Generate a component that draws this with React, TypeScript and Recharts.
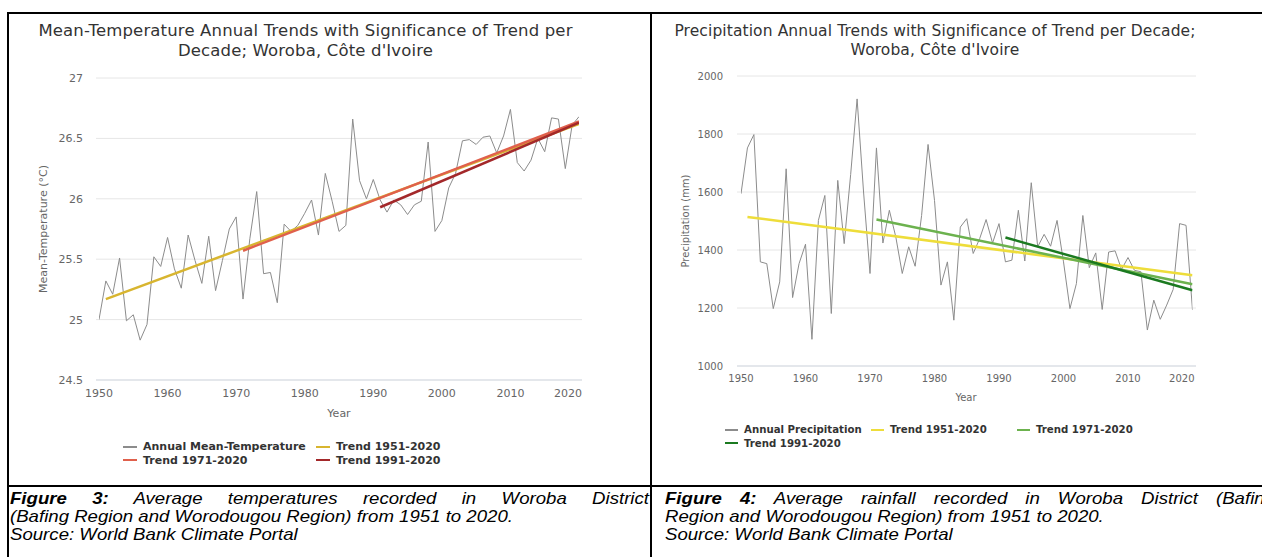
import React from 'react';
import { LineChart, Line, XAxis, YAxis, CartesianGrid, Legend } from 'recharts';

const years = [
  1950, 1951, 1952, 1953, 1954, 1955, 1956, 1957, 1958, 1959,
  1960, 1961, 1962, 1963, 1964, 1965, 1966, 1967, 1968, 1969,
  1970, 1971, 1972, 1973, 1974, 1975, 1976, 1977, 1978, 1979,
  1980, 1981, 1982, 1983, 1984, 1985, 1986, 1987, 1988, 1989,
  1990, 1991, 1992, 1993, 1994, 1995, 1996, 1997, 1998, 1999,
  2000, 2001, 2002, 2003, 2004, 2005, 2006, 2007, 2008, 2009,
  2010, 2011, 2012, 2013, 2014, 2015, 2016, 2017, 2018, 2019, 2020,
];

const meanTemperature = [
  25.0, 25.32, 25.21, 25.51, 24.99, 25.04, 24.83, 24.96, 25.52, 25.44,
  25.68, 25.42, 25.26, 25.7, 25.49, 25.3, 25.69, 25.24, 25.49, 25.75,
  25.85, 25.17, 25.67, 26.06, 25.38, 25.39, 25.14, 25.79, 25.73, 25.78,
  25.88, 25.99, 25.7, 26.21, 25.98, 25.73, 25.78, 26.66, 26.15, 26.0,
  26.16, 25.99, 25.89, 25.99, 25.95, 25.87, 25.95, 25.98, 26.47, 25.73,
  25.82, 26.09, 26.21, 26.48, 26.49, 26.45, 26.51, 26.52, 26.38, 26.52,
  26.74, 26.3, 26.23, 26.32, 26.5, 26.39, 26.67, 26.66, 26.25, 26.61, 26.68,
];

const precipitation = [
  1594, 1752, 1798, 1359, 1353, 1198, 1290, 1680, 1236, 1353,
  1420, 1092, 1502, 1588, 1181, 1640, 1422, 1660, 1921, 1600,
  1319, 1752, 1424, 1537, 1445, 1319, 1411, 1344, 1519, 1764,
  1571, 1279, 1359, 1158, 1479, 1508, 1388, 1439, 1505, 1424,
  1491, 1359, 1365, 1537, 1362, 1632, 1411, 1454, 1413, 1502,
  1359, 1198, 1284, 1519, 1339, 1390, 1195, 1393, 1397, 1333,
  1374, 1330, 1325, 1124, 1227, 1161, 1210, 1264, 1491, 1485, 1193,
];

const tempTrend1951 = [
  { year: 1951, value: 25.17 },
  { year: 2020, value: 26.62 },
];
const tempTrend1971 = [
  { year: 1971, value: 25.57 },
  { year: 2020, value: 26.64 },
];
const tempTrend1991 = [
  { year: 1991, value: 25.93 },
  { year: 2020, value: 26.63 },
];

const precipTrend1951 = [
  { year: 1951, value: 1514 },
  { year: 2020, value: 1313 },
];
const precipTrend1971 = [
  { year: 1971, value: 1505 },
  { year: 2020, value: 1282 },
];
const precipTrend1991 = [
  { year: 1991, value: 1443 },
  { year: 2020, value: 1261 },
];

const xTicks = [1950, 1960, 1970, 1980, 1990, 2000, 2010, 2020];
const tempTicks = [24.5, 25, 25.5, 26, 26.5, 27];
const precipTicks = [1000, 1200, 1400, 1600, 1800, 2000];

const tempData = years.map((y, i) => ({ year: y, value: meanTemperature[i] }));
const precipData = years.map((y, i) => ({ year: y, value: precipitation[i] }));

const FONT = '"DejaVu Sans", sans-serif';
const CAPTION_FONT = '"Liberation Sans", Arial, sans-serif';
const CAP_SCALE = 1.15;

const makeXTick = (fontSize: number, lastShift: number) => (props: any) => {
  const { x, y, payload } = props;
  const isLast = payload.value === 2020;
  return (
    <text
      x={isLast ? x + lastShift : x}
      y={y}
      dy="0.71em"
      textAnchor={isLast ? 'end' : 'middle'}
      fill="#666"
      fontSize={fontSize}
      fontFamily={FONT}
    >
      {payload.value}
    </text>
  );
};

const makeLegend = (cols: number, colWidth: number, fontSize: number, rowH: number, symW: number, gap: number) =>
  (props: any) => {
    const items = props.payload || [];
    return (
      <div
        style={{
          display: 'grid',
          gridTemplateColumns: `repeat(${cols}, ${colWidth}px)`,
          fontFamily: FONT,
        }}
      >
        {items.map((it: any, i: number) => (
          <div key={i} style={{ display: 'flex', alignItems: 'center', height: rowH }}>
            <span style={{ display: 'inline-block', width: symW, height: 2, background: it.color, marginRight: gap }} />
            <span style={{ fontWeight: 'bold', fontSize, color: '#333', whiteSpace: 'nowrap', lineHeight: `${rowH}px` }}>
              {it.value}
            </span>
          </div>
        ))}
      </div>
    );
  };

const abs = (s: React.CSSProperties): React.CSSProperties => ({ position: 'absolute', ...s });

const captionBox = (left: number, visualWidth: number): React.CSSProperties =>
  abs({
    left,
    top: 488.6,
    width: visualWidth / CAP_SCALE,
    fontFamily: CAPTION_FONT,
    fontStyle: 'italic',
    fontSize: 16.2,
    lineHeight: '18px',
    color: '#000',
    transform: `scaleX(${CAP_SCALE})`,
    transformOrigin: '0 0',
  });

export default function App() {
  return (
    <div style={{ position: 'relative', width: 1262, height: 557, overflow: 'hidden', background: '#fff' }}>
      <style>{`body{margin:0;}`}</style>

      {/* Left chart */}
      <div style={abs({ left: 0, top: 0 })}>
        <LineChart
          width={650}
          height={485}
          data={tempData}
          margin={{ top: 78, right: 68, bottom: 75, left: 0 }}
        >
          <CartesianGrid vertical={false} stroke="#e6e6e6" />
          <XAxis
            dataKey="year"
            type="number"
            domain={[1950, 2020]}
            ticks={xTicks}
            padding={{ left: 3, right: 3 }}
            height={30}
            tickSize={0}
            tickMargin={9}
            axisLine={{ stroke: '#d5dbe4' }}
            tick={makeXTick(11, 3)}
            allowDataOverflow
          />
          <YAxis
            type="number"
            domain={[24.5, 27]}
            ticks={tempTicks}
            width={96}
            tickSize={0}
            tickMargin={13}
            axisLine={false}
            tick={{ fill: '#666', fontSize: 11, fontFamily: FONT }}
            allowDataOverflow
          />
          <Line data={tempData} dataKey="value" name="Annual Mean-Temperature" stroke="#8c8c8c" strokeWidth={1} dot={false} isAnimationActive={false} />
          <Line data={tempTrend1951} dataKey="value" name="Trend 1951-2020" stroke="#d8b52f" strokeWidth={2.5} dot={false} isAnimationActive={false} />
          <Line data={tempTrend1971} dataKey="value" name="Trend 1971-2020" stroke="#e0604c" strokeWidth={2.5} dot={false} isAnimationActive={false} />
          <Line data={tempTrend1991} dataKey="value" name="Trend 1991-2020" stroke="#a3282a" strokeWidth={2.5} dot={false} isAnimationActive={false} />
          <Legend
            layout="horizontal"
            verticalAlign="middle"
            align="center"
            wrapperStyle={{ left: 123, top: 440, width: 420, height: 28 }}
            content={makeLegend(2, 193, 11, 13.5, 14, 6)}
          />
        </LineChart>
      </div>

      {/* Right chart */}
      <div style={abs({ left: 652, top: 0 })}>
        <LineChart
          width={610}
          height={485}
          data={precipData}
          margin={{ top: 76, right: 66, bottom: 89, left: 0 }}
        >
          <CartesianGrid vertical={false} stroke="#e6e6e6" />
          <XAxis
            dataKey="year"
            type="number"
            domain={[1950, 2020]}
            ticks={xTicks}
            padding={{ left: 4, right: 3.5 }}
            height={30}
            tickSize={0}
            tickMargin={9}
            axisLine={{ stroke: '#d5dbe4' }}
            tick={makeXTick(10, 2)}
            allowDataOverflow
          />
          <YAxis
            type="number"
            domain={[1000, 2000]}
            ticks={precipTicks}
            width={85}
            tickSize={0}
            tickMargin={14}
            axisLine={false}
            tick={{ fill: '#666', fontSize: 10, fontFamily: FONT }}
            allowDataOverflow
          />
          <Line data={precipData} dataKey="value" name="Annual Precipitation" stroke="#8c8c8c" strokeWidth={1} dot={false} isAnimationActive={false} />
          <Line data={precipTrend1951} dataKey="value" name="Trend 1951-2020" stroke="#eedd3a" strokeWidth={2.5} dot={false} isAnimationActive={false} />
          <Line data={precipTrend1971} dataKey="value" name="Trend 1971-2020" stroke="#6cb24e" strokeWidth={2.5} dot={false} isAnimationActive={false} />
          <Line data={precipTrend1991} dataKey="value" name="Trend 1991-2020" stroke="#1b7a20" strokeWidth={2.5} dot={false} isAnimationActive={false} />
          <Legend
            layout="horizontal"
            verticalAlign="middle"
            align="center"
            wrapperStyle={{ left: 73, top: 423.4, width: 460, height: 28 }}
            content={makeLegend(3, 146, 10.2, 13.3, 13, 6)}
          />
        </LineChart>
      </div>

      {/* Titles */}
      <div
        style={abs({
          left: 9, top: 21.3, width: 593, textAlign: 'center', fontFamily: FONT, fontSize: 16.5,
          letterSpacing: '0.15px', lineHeight: '19.3px', color: '#333', whiteSpace: 'nowrap',
        })}
      >
        Mean-Temperature Annual Trends with Significance of Trend per
        <br />
        Decade; Woroba, Côte d'Ivoire
      </div>
      <div
        style={abs({
          left: 652, top: 21.5, width: 566, textAlign: 'center', fontFamily: FONT, fontSize: 15.5,
          letterSpacing: '0.1px', lineHeight: '19.3px', color: '#333', whiteSpace: 'nowrap',
        })}
      >
        Precipitation Annual Trends with Significance of Trend per Decade;
        <br />
        Woroba, Côte d'Ivoire
      </div>

      {/* Axis titles */}
      <div style={abs({ left: 43, top: 229, transform: 'translate(-50%, -50%) rotate(-90deg)', fontFamily: FONT, fontSize: 11, color: '#666', whiteSpace: 'nowrap' })}>
        Mean-Temperature (°C)
      </div>
      <div style={abs({ left: 339, top: 413, transform: 'translate(-50%, -50%)', fontFamily: FONT, fontSize: 11, color: '#666', whiteSpace: 'nowrap' })}>
        Year
      </div>
      <div style={abs({ left: 685, top: 221, transform: 'translate(-50%, -50%) rotate(-90deg)', fontFamily: FONT, fontSize: 10, color: '#666', whiteSpace: 'nowrap' })}>
        Precipitation (mm)
      </div>
      <div style={abs({ left: 966, top: 397, transform: 'translate(-50%, -50%)', fontFamily: FONT, fontSize: 10, color: '#666', whiteSpace: 'nowrap' })}>
        Year
      </div>

      {/* Table borders */}
      <div style={abs({ left: 7, top: 12, width: 1255, height: 2, background: '#000' })} />
      <div style={abs({ left: 7, top: 12, width: 2, height: 545, background: '#000' })} />
      <div style={abs({ left: 650, top: 12, width: 2, height: 545, background: '#000' })} />
      <div style={abs({ left: 7, top: 485, width: 1255, height: 2, background: '#000' })} />

      {/* Captions */}
      <div style={captionBox(10, 639)}>
        <div style={{ textAlign: 'justify', textAlignLast: 'justify', whiteSpace: 'nowrap' as any }}>
          <b>Figure 3:</b> Average temperatures recorded in Woroba District
        </div>
        <div style={{ whiteSpace: 'nowrap' }}>(Bafing Region and Worodougou Region) from 1951 to 2020.</div>
        <div style={{ whiteSpace: 'nowrap' }}>Source: World Bank Climate Portal</div>
      </div>
      <div style={captionBox(665, 610)}>
        <div style={{ textAlign: 'justify', textAlignLast: 'justify', whiteSpace: 'nowrap' as any }}>
          <b>Figure 4:</b> Average rainfall recorded in Woroba District (Bafing
        </div>
        <div style={{ whiteSpace: 'nowrap' }}>Region and Worodougou Region) from 1951 to 2020.</div>
        <div style={{ whiteSpace: 'nowrap' }}>Source: World Bank Climate Portal</div>
      </div>
    </div>
  );
}
